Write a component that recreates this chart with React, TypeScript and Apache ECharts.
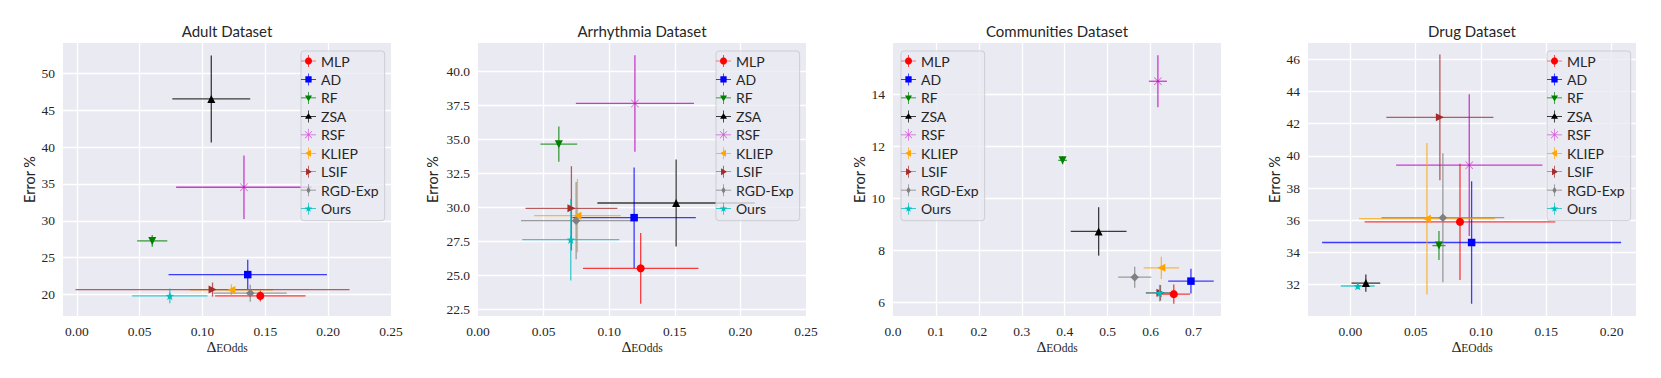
import React, { useEffect, useRef } from "react";
import * as echarts from "echarts";

// ---------- data ----------
const METHODS = ["MLP", "AD", "RF", "ZSA", "RSF", "KLIEP", "LSIF", "RGD-Exp", "Ours"];
const COLORS = ["#ff0000", "#0000ff", "#008000", "#000000", "#bf00bf", "#ffa500", "#a52a2a", "#808080", "#00bfbf"];

const TITLES = ["Adult Dataset", "Arrhythmia Dataset", "Communities Dataset", "Drug Dataset"];

// Adult
const ADULT_X = [0.146, 0.136, 0.06, 0.107, 0.133, 0.123, 0.108, 0.138, 0.074];
const ADULT_Y = [19.82, 22.71, 27.28, 46.52, 34.55, 20.64, 20.68, 20.19, 19.82];
const ADULT_XERR = [0.036, 0.063, 0.012, 0.031, 0.054, 0.033, 0.109, 0.029, 0.03];
const ADULT_YERR = [0.75, 2.0, 0.8, 5.9, 4.3, 0.75, 0.95, 1.15, 1.0];

// Arrhythmia
const ARR_X = [0.124, 0.119, 0.0616, 0.151, 0.1196, 0.0758, 0.0712, 0.0748, 0.0707];
const ARR_Y = [25.51, 29.24, 34.65, 30.32, 37.65, 29.39, 29.93, 29.02, 27.62];
const ARR_XERR = [0.044, 0.047, 0.014, 0.06, 0.045, 0.033, 0.035, 0.042, 0.037];
const ARR_YERR = [2.6, 3.7, 1.3, 3.2, 3.55, 2.7, 3.1, 2.85, 3.0];

// Communities
const COM_X = [0.654, 0.694, 0.395, 0.479, 0.617, 0.625, 0.623, 0.563, 0.621];
const COM_Y = [6.31, 6.81, 11.45, 8.72, 14.49, 7.32, 6.36, 6.96, 6.35];
const COM_XERR = [0.038, 0.053, 0.01, 0.065, 0.021, 0.041, 0.034, 0.0385, 0.032];
const COM_YERR = [0.37, 0.48, 0.15, 0.93, 1.0, 0.43, 0.3, 0.4, 0.32];

// Drug
const DRUG_X = [0.0839, 0.0928, 0.0678, 0.0118, 0.091, 0.0586, 0.0685, 0.0708, 0.0056];
const DRUG_Y = [35.9, 34.62, 34.43, 32.1, 39.42, 36.1, 42.39, 36.16, 31.92];
const DRUG_XERR = [0.073, 0.1145, 0.005, 0.011, 0.056, 0.052, 0.041, 0.047, 0.013];
const DRUG_YERR = [3.6, 3.8, 0.9, 0.53, 4.4, 4.7, 3.9, 4.0, 0.2];

// axis extents: [min, max, step, decimals]
const X_AXES = [
  [-0.011, 0.25, 0.05, 2],
  [0, 0.25, 0.05, 2],
  [0, 0.764, 0.1, 1],
  [-0.0325, 0.2187, 0.05, 2],
];
const Y_AXES = [
  [17.1, 54.1, 5, 0],
  [22.0, 42.1, 2.5, 1],
  [5.47, 15.96, 2, 0],
  [30.06, 47.0, 2, 0],
];

const PANEL_DATA = [
  [ADULT_X, ADULT_Y, ADULT_XERR, ADULT_YERR],
  [ARR_X, ARR_Y, ARR_XERR, ARR_YERR],
  [COM_X, COM_Y, COM_XERR, COM_YERR],
  [DRUG_X, DRUG_Y, DRUG_XERR, DRUG_YERR],
];

// ---------- layout ----------
const GRID_LEFT = [63, 478, 893, 1308];
const GRID_TOP = 43;
const GRID_W = 328;
const GRID_H = 273;
const LEGEND_LEFT = [301, 716, 901, 1547];
const Y_NAME_GAP = [26, 38, 26, 26];

// ---------- shapes ----------
type Pt = [number, number];
function polyPath(pts: Pt[]): string {
  let a = 0;
  for (let i = 0; i < pts.length; i++) {
    const p = pts[i];
    const q = pts[(i + 1) % pts.length];
    a += p[0] * q[1] - q[0] * p[1];
  }
  const list = a < 0 ? pts.slice().reverse() : pts;
  return "M" + list.map((p) => p[0].toFixed(2) + " " + p[1].toFixed(2)).join(" L") + " Z";
}
function circlePts(cx: number, cy: number, r: number): Pt[] {
  const out: Pt[] = [];
  for (let i = 0; i < 28; i++) {
    const t = (i / 28) * Math.PI * 2;
    out.push([cx + r * Math.cos(t), cy + r * Math.sin(t)]);
  }
  return out;
}
function starPts(cx: number, cy: number, R: number, r: number): Pt[] {
  const out: Pt[] = [];
  for (let i = 0; i < 10; i++) {
    const t = -Math.PI / 2 + (i * Math.PI) / 5;
    const rad = i % 2 === 0 ? R : r;
    out.push([cx + rad * Math.cos(t), cy + rad * Math.sin(t)]);
  }
  return out;
}
function barPts(p1: Pt, p2: Pt, h: number): Pt[] {
  const dx = p2[0] - p1[0];
  const dy = p2[1] - p1[1];
  const L = Math.sqrt(dx * dx + dy * dy);
  const nx = (-dy / L) * h;
  const ny = (dx / L) * h;
  return [
    [p1[0] + nx, p1[1] + ny],
    [p2[0] + nx, p2[1] + ny],
    [p2[0] - nx, p2[1] - ny],
    [p1[0] - nx, p1[1] - ny],
  ];
}

function markerShapes(cx: number, cy: number, s: number): string[] {
  return [
    polyPath(circlePts(cx, cy, s)),
    polyPath([[cx - s * 0.9, cy - s * 0.9], [cx + s * 0.9, cy - s * 0.9], [cx + s * 0.9, cy + s * 0.9], [cx - s * 0.9, cy + s * 0.9]]),
    polyPath([[cx - s, cy - s * 0.7], [cx + s, cy - s * 0.7], [cx, cy + s]]),
    polyPath([[cx, cy - s], [cx + s, cy + s * 0.7], [cx - s, cy + s * 0.7]]),
    polyPath(barPts([cx - s, cy - s], [cx + s, cy + s], s * 0.1)) + " " + polyPath(barPts([cx + s, cy - s], [cx - s, cy + s], s * 0.1)),
    polyPath([[cx - s, cy], [cx + s * 0.7, cy - s], [cx + s * 0.7, cy + s]]),
    polyPath([[cx + s, cy], [cx - s * 0.7, cy - s], [cx - s * 0.7, cy + s]]),
    polyPath([[cx, cy - s], [cx + s * 0.62, cy], [cx, cy + s], [cx - s * 0.62, cy]]),
    polyPath(starPts(cx, cy, s * 1.1, s * 0.45)),
  ];
}

const SCATTER_SYMBOLS = markerShapes(10, 10, 10).map((d) => "path://" + d);
const SCATTER_SIZES = [8, 7.5, 8, 8, 8, 8, 8, 8.5, 8.5];

const LEGEND_BARS =
  polyPath([[0, 11.3], [30, 11.3], [30, 12.7], [0, 12.7]]) +
  " " +
  polyPath([[14.3, 0], [15.7, 0], [15.7, 24], [14.3, 24]]);
const LEGEND_ICONS = markerShapes(15, 12, 7).map((d) => "path://" + LEGEND_BARS + " " + d);

function App() {
  const ref = useRef<HTMLDivElement>(null);

  useEffect(() => {
    document.body.style.margin = "0";
    if (!ref.current) return;
    const chart = echarts.init(ref.current, null, { renderer: "svg" });

    const isTick = (v: number, step: number) => Math.abs(v / step - Math.round(v / step)) < 1e-6;
    const labelFont = { fontFamily: "Liberation Serif", fontSize: 13.5, color: "#262626" };

    const grids: any[] = [];
    const xAxes: any[] = [];
    const yAxes: any[] = [];
    const titles: any[] = [];
    const legends: any[] = [];
    const series: any[] = [];

    for (let p = 0; p < 4; p++) {
      grids.push({
        left: GRID_LEFT[p],
        top: GRID_TOP,
        width: GRID_W,
        height: GRID_H,
        show: true,
        backgroundColor: "#eaeaf2",
        borderWidth: 0,
        containLabel: false,
        outerBoundsMode: "none",
      });
      const [xmin, xmax, xstep, xdec] = X_AXES[p];
      const [ymin, ymax, ystep, ydec] = Y_AXES[p];
      xAxes.push({
        type: "value",
        gridIndex: p,
        min: xmin,
        max: xmax,
        minInterval: xstep,
        maxInterval: xstep,
        splitNumber: 5,
        axisLine: { show: false },
        axisTick: { show: false },
        splitLine: { show: true, showMinLine: false, showMaxLine: false, lineStyle: { color: "#ffffff", width: 1.3 } },
        axisLabel: {
          ...labelFont,
          margin: 8,
          showMinLabel: isTick(xmin, xstep),
          showMaxLabel: isTick(xmax, xstep),
          formatter: (v: number) => v.toFixed(xdec),
        },
        name: "{a|Δ}{b|EOdds}",
        nameLocation: "middle",
        nameGap: 22,
        nameMoveOverlap: false,
        nameTextStyle: {
          color: "#262626",
          rich: {
            a: { fontFamily: "Liberation Serif", fontSize: 15.5, color: "#262626", lineHeight: 16, verticalAlign: "top" },
            b: { fontFamily: "Liberation Serif", fontSize: 11.5, color: "#262626", lineHeight: 12, padding: [6, 0, 0, 0], verticalAlign: "bottom" },
          },
        },
      });
      yAxes.push({
        type: "value",
        gridIndex: p,
        min: ymin,
        max: ymax,
        minInterval: ystep,
        maxInterval: ystep,
        splitNumber: 6,
        axisLine: { show: false },
        axisTick: { show: false },
        splitLine: { show: true, showMinLine: false, showMaxLine: false, lineStyle: { color: "#ffffff", width: 1.3 } },
        axisLabel: {
          ...labelFont,
          margin: 8,
          showMinLabel: isTick(ymin, ystep),
          showMaxLabel: isTick(ymax, ystep),
          formatter: (v: number) => v.toFixed(ydec),
        },
        name: "Error %",
        nameLocation: "middle",
        nameGap: Y_NAME_GAP[p],
        nameRotate: 90,
        nameMoveOverlap: false,
        nameTextStyle: { fontFamily: "Lato", fontSize: 14.5, color: "#262626" },
      });
      titles.push({
        text: TITLES[p],
        left: GRID_LEFT[p] + GRID_W / 2,
        top: 22,
        textAlign: "center",
        padding: 0,
        textStyle: { fontFamily: "Lato", fontSize: 15, fontWeight: "normal", color: "#262626", lineHeight: 18 },
      });
      legends.push({
        orient: "vertical",
        left: LEGEND_LEFT[p],
        top: 51,
        padding: [3, 6, 5, 0],
        itemWidth: 15,
        itemHeight: 12,
        itemGap: 4.46,
        itemTextGap: 6,
        backgroundColor: "rgba(234,234,242,0.8)",
        borderColor: "#cdcdd4",
        borderWidth: 1,
        borderRadius: 3,
        selectedMode: false,
        textStyle: { fontFamily: "Lato", fontSize: 14, color: "#262626", lineHeight: 14 },
        data: METHODS.map((m, i) => ({ name: m, icon: LEGEND_ICONS[i] })),
      });

      const [xs, ys, xes, yes] = PANEL_DATA[p];
      METHODS.forEach((m, i) => {
        const color = COLORS[i];
        series.push({
          type: "scatter",
          name: m,
          xAxisIndex: p,
          yAxisIndex: p,
          z: 3,
          symbol: SCATTER_SYMBOLS[i],
          symbolSize: SCATTER_SIZES[i],
          itemStyle: { color, opacity: i === 4 ? 0.6 : 1 },
          data: [[xs[i], ys[i]]],
          silent: true,
        });
        series.push({
          type: "custom",
          name: m,
          xAxisIndex: p,
          yAxisIndex: p,
          z: 2,
          clip: true,
          silent: true,
          itemStyle: { color },
          encode: { x: 0, y: 1 },
          data: [[xs[i], ys[i], xes[i], yes[i]]],
          renderItem: (params: any, api: any) => {
            const x = api.value(0);
            const y = api.value(1);
            const xe = api.value(2);
            const ye = api.value(3);
            const l = api.coord([x - xe, y]);
            const r = api.coord([x + xe, y]);
            const t = api.coord([x, y + ye]);
            const b = api.coord([x, y - ye]);
            const style = { stroke: color, lineWidth: 1.3, opacity: 0.75, fill: "none" };
            return {
              type: "group",
              children: [
                { type: "line", shape: { x1: l[0], y1: l[1], x2: r[0], y2: r[1] }, style },
                { type: "line", shape: { x1: t[0], y1: t[1], x2: b[0], y2: b[1] }, style },
              ],
            };
          },
        });
      });
    }

    chart.setOption({
      animation: false,
      backgroundColor: "#ffffff",
      grid: grids,
      xAxis: xAxes,
      yAxis: yAxes,
      title: titles,
      legend: legends,
      series,
    });

    return () => chart.dispose();
  }, []);

  return <div ref={ref} style={{ width: 1661, height: 378 }} />;
}

export default App;
